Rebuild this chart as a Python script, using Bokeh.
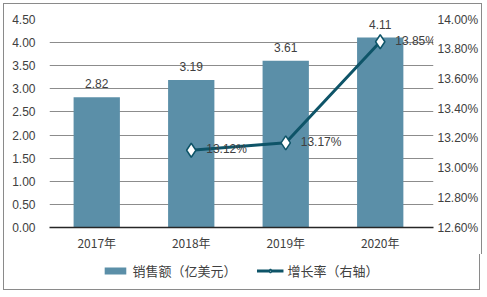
from bokeh.plotting import figure
from bokeh.layouts import column
from bokeh.models import (ColumnDataSource, Range1d, LinearAxis, FixedTicker,
                          NumeralTickFormatter, Legend, LegendItem)
from bokeh.embed import file_html
from bokeh.resources import INLINE

years = ["2017年", "2018年", "2019年", "2020年"]
sales = [2.82, 3.19, 3.61, 4.11]
sales_labels = ["2.82", "3.19", "3.61", "4.11"]
rate_years = ["2018年", "2019年", "2020年"]
rate = [0.1312, 0.1317, 0.1385]
rate_labels = ["13.12%", "13.17%", "13.85%"]
left_ticks = [0, 0.5, 1.0, 1.5, 2.0, 2.5, 3.0, 3.5, 4.0, 4.5]
right_ticks = [0.126, 0.128, 0.130, 0.132, 0.134, 0.136, 0.138, 0.140]
legend_labels = ["销售额（亿美元）", "增长率（右轴）"]

BAR = "#5b8fa8"
LINE = "#0e5468"
TXT = "#404040"
BORDER = "1.5px solid #8a8a8a"
FONT = "Liberation Sans"
CJK = "Noto Sans CJK SC"

xs = list(range(len(years)))
rate_xs = [years.index(y) for y in rate_years]

p = figure(frame_width=382, frame_height=207, x_range=Range1d(-0.5, 3.5 + 6 / 94),
           y_range=Range1d(0, 4.5), output_backend="svg", toolbar_location=None,
           min_border_left=45, min_border_right=50, min_border_top=15, min_border_bottom=28)
p.styles = {"border-top": BORDER, "border-left": BORDER, "border-right": BORDER}
p.outline_line_color = None
p.background_fill_color = "white"
p.border_fill_color = "white"

p.extra_y_ranges = {"pct": Range1d(0.126, 0.140)}

src = ColumnDataSource(dict(x=xs, y=sales, lab=sales_labels))
bars = p.vbar(x="x", top="y", width=0.49, source=src, fill_color=BAR, line_color=None)
p.text(x="x", y="y", text="lab", source=src, text_align="center", text_baseline="bottom",
       y_offset=-9, text_font_size="12px", text_color=TXT, text_font={"value": FONT})

rsrc = ColumnDataSource(dict(x=rate_xs, y=rate, lab=rate_labels))
ln = p.line(x="x", y="y", source=rsrc, y_range_name="pct", line_color=LINE, line_width=3)
sc = p.scatter(x="x", y="y", source=rsrc, y_range_name="pct", marker="diamond", size=14,
               fill_color="white", line_color=LINE, line_width=1.5)
p.text(x="x", y="y", text="lab", source=rsrc, y_range_name="pct", x_offset=15, y_offset=-1,
       text_align="left", text_baseline="middle", text_font_size="12px", text_color=TXT,
       text_font={"value": FONT})

# left axis
ya = p.yaxis[0]
ya.ticker = FixedTicker(ticks=left_ticks)
ya.formatter = NumeralTickFormatter(format="0.00")
ya.axis_line_color = None
ya.major_tick_line_color = None
ya.minor_tick_line_color = None
ya.major_label_text_font = FONT
ya.major_label_text_font_size = "12px"
ya.major_label_text_color = TXT
ya.major_label_standoff = 8

# right axis
ra = LinearAxis(y_range_name="pct", ticker=FixedTicker(ticks=right_ticks),
                formatter=NumeralTickFormatter(format="0.00%"))
ra.axis_line_color = None
ra.major_tick_line_color = None
ra.minor_tick_line_color = None
ra.major_label_text_font = FONT
ra.major_label_text_font_size = "12px"
ra.major_label_text_color = TXT
ra.major_label_standoff = -2
p.add_layout(ra, "right")

xa = p.xaxis[0]
xa.ticker = FixedTicker(ticks=xs)
xa.major_label_overrides = {i: y for i, y in zip(xs, years)}
xa.axis_line_color = "#262626"
xa.axis_line_width = 1.5
xa.major_tick_line_color = None
xa.minor_tick_line_color = None
xa.major_label_text_font = CJK
xa.major_label_text_font_size = "12px"
xa.major_label_text_color = TXT
xa.major_label_standoff = 0

p.xgrid.grid_line_color = None
p.ygrid.ticker = FixedTicker(ticks=left_ticks)
p.ygrid.grid_line_color = "#8c8c8c"
p.ygrid.grid_line_width = 1

# legend strip below the chart (its own glyphs sit outside its visible range)
p2 = figure(width=477, height=36, x_range=Range1d(0, 1), y_range=Range1d(10, 11),
            output_backend="svg", toolbar_location=None,
            min_border_left=0, min_border_right=0, min_border_top=0, min_border_bottom=0)
p2.styles = {"border-bottom": BORDER, "border-left": BORDER, "border-right": BORDER}
p2.axis.visible = False
p2.grid.visible = False
p2.outline_line_color = None
p2.border_fill_color = "white"
p2.background_fill_color = "white"
lb = p2.vbar(x=xs, top=sales, width=0.5, fill_color=BAR, line_color=None)
ll = p2.line(x=rate_xs, y=rate, line_color=LINE, line_width=3)
ls = p2.scatter(x=rate_xs, y=rate, marker="diamond", size=11, fill_color="white",
                line_color=LINE, line_width=1.5)
legend = Legend(items=[LegendItem(label=legend_labels[0], renderers=[lb]),
                       LegendItem(label=legend_labels[1], renderers=[ll, ls])],
                orientation="horizontal", location="top_center")
legend.label_text_font = CJK
legend.label_text_font_size = "13px"
legend.label_text_color = TXT
legend.glyph_width = 27
legend.glyph_height = 9
legend.spacing = 20
legend.label_standoff = 4
legend.border_line_color = None
legend.background_fill_alpha = 0
legend.padding = 0
legend.margin = 7
p2.add_layout(legend)

layout = column(p, p2, spacing=0, styles={"margin-left": "3px", "margin-top": "3px"})

open("out.html", "w").write(file_html(layout, INLINE))
